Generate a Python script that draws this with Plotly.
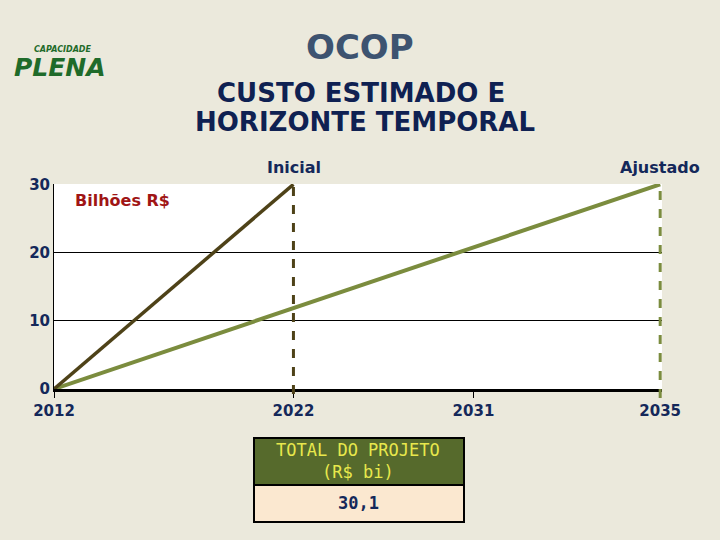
import plotly.graph_objects as go

# ---- data ----
year_labels = ["2012", "2022", "2031", "2035"]
milestone_pos = [0, 3.95, 6.92, 10]          # position of each milestone on the timeline axis
inicial_x = [0, 3.95]
inicial_y = [0, 30]
ajustado_x = [0, 10]
ajustado_y = [0, 30]
y_ticks = [0, 10, 20, 30]
total_header = "TOTAL DO PROJETO<br>(R$ bi)"
total_value = "30,1"

NAVY = "#14285a"
FONT = "DejaVu Sans"
W, H = 720, 540
PL, PR, PT, PB = 54, 662, 184, 389   # plot area in page pixels


def px(x):
    return x / W


def py(y):
    return 1 - y / H


fig = go.Figure()

fig.add_trace(go.Scatter(x=ajustado_x, y=ajustado_y, mode="lines",
                         line=dict(color="#7b8c3e", width=4),
                         hoverinfo="skip", showlegend=False))
fig.add_trace(go.Scatter(x=inicial_x, y=inicial_y, mode="lines",
                         line=dict(color="#4e4218", width=3.5),
                         hoverinfo="skip", showlegend=False))

# vertical dashed milestone lines
fig.add_shape(type="line", x0=inicial_x[-1], x1=inicial_x[-1], y0=py(PB + 5), y1=py(PT),
              xref="x", yref="paper", line=dict(color="#4e4218", width=3, dash="dash"))
fig.add_shape(type="line", x0=ajustado_x[-1], x1=ajustado_x[-1], y0=py(PB + 9), y1=py(PT),
              xref="x", yref="paper", line=dict(color="#7b8c3e", width=3, dash="dash"))

# summary table (header + value box)
TX0, TX1, TY0, TY1, TY2 = 254, 464, 438, 485, 522
fig.add_shape(type="rect", xref="paper", yref="paper", x0=px(TX0), x1=px(TX1),
              y0=py(TY1), y1=py(TY0), fillcolor="#566a2c", line=dict(color="black", width=2))
fig.add_shape(type="rect", xref="paper", yref="paper", x0=px(TX0), x1=px(TX1),
              y0=py(TY2), y1=py(TY1), fillcolor="#fbe8d0", line=dict(color="black", width=2))

texts = [
    ("<b>OCOP</b>", 360, 47, 34, "#3d5370", FONT),
    ("<b>CUSTO ESTIMADO E</b>", 361, 93, 26, "#0f2152", FONT),
    ("<b>HORIZONTE TEMPORAL</b>", 365, 122, 26, "#0f2152", FONT),
    ("<b>Bilhões R$</b>", 122, 200, 16, "#a01515", FONT),
    ("<i><b>CAPACIDADE</b></i>", 62, 50, 8, "#1f6b2a", FONT),
    ("<i><b>PLENA</b></i>", 60, 68, 25, "#1f6b2a", FONT),
    ("<b>Inicial</b>", 294, 167, 16, NAVY, FONT),
    ("<b>Ajustado</b>", 660, 167, 16, NAVY, FONT),
    (total_header, 358, 461, 17, "#e8e84c", "DejaVu Sans Mono"),
    (f"<b>{total_value}</b>", 358, 503, 17, NAVY, "DejaVu Sans Mono"),
]
annots = [dict(text=t, x=px(x), y=py(y), xref="paper", yref="paper", showarrow=False,
               xanchor="center", yanchor="middle", align="center",
               font=dict(family=f, size=s, color=c)) for t, x, y, s, c, f in texts]

fig.update_layout(
    width=W, height=H,
    margin=dict(l=0, r=0, t=0, b=0),
    paper_bgcolor="#ebe9dc", plot_bgcolor="white",
    annotations=annots,
    xaxis=dict(domain=[px(PL), px(PR)], range=[0, 10.03], automargin=False,
               tickvals=milestone_pos, ticktext=[f"<b>{t}</b>" for t in year_labels],
               showgrid=False, zeroline=False, showline=True, linecolor="black", linewidth=3,
               ticks="outside", ticklen=6, tickcolor="black", tickwidth=1,
               tickfont=dict(family=FONT, size=15, color=NAVY)),
    yaxis=dict(domain=[py(PB), py(PT)], range=[0, 30.05], automargin=False,
               tickvals=y_ticks, ticktext=[f"<b>{v}</b>" for v in y_ticks],
               showgrid=True, gridcolor="black", gridwidth=1, zeroline=False,
               showline=True, linecolor="black", linewidth=1, ticks="",
               tickfont=dict(family=FONT, size=15, color=NAVY)),
)

fig.write_html("out.html", config={"displayModeBar": False},
               post_script="document.body.style.margin='0px';")
